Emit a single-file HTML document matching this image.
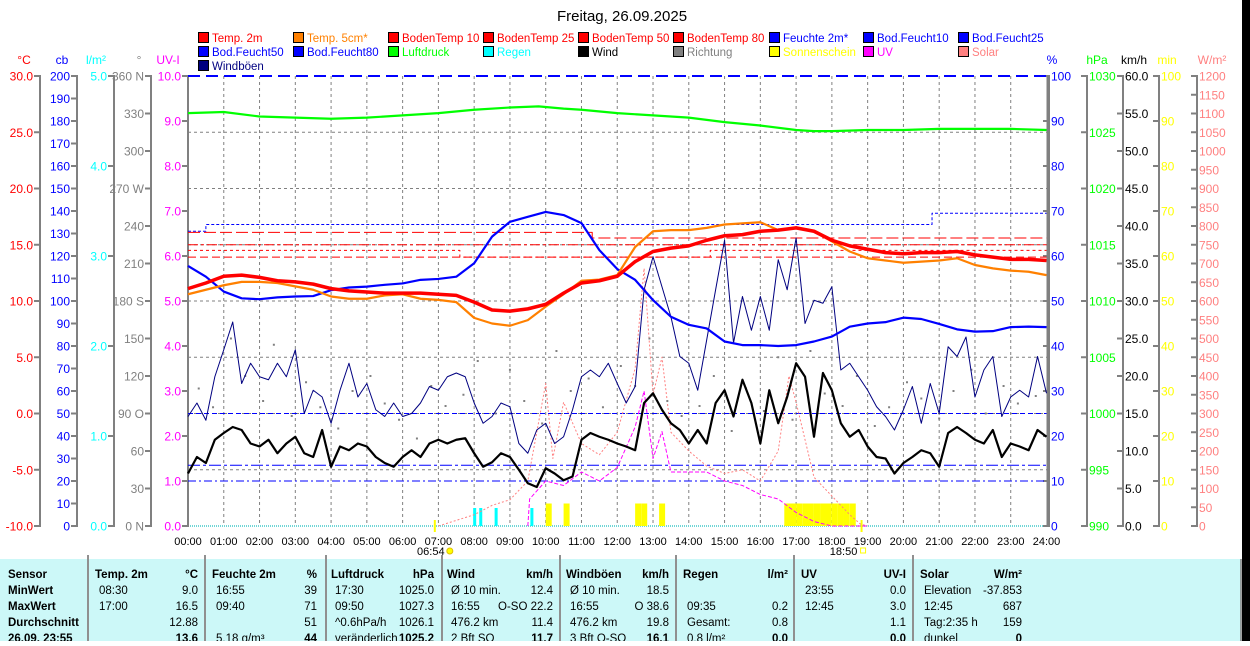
<!DOCTYPE html>
<html><head><meta charset="utf-8"><title>Wetter 26.09.2025</title>
<style>
body{margin:0;width:1250px;height:641px;overflow:hidden;background:#fff;font-family:"Liberation Sans",sans-serif;}
svg text{font-family:"Liberation Sans",sans-serif;}
#tbl text{font-family:"Liberation Sans Narrow","Liberation Sans",sans-serif;font-size:11.5px;}
</style></head>
<body>
<svg id="chart" width="1250" height="641" xmlns="http://www.w3.org/2000/svg">
<rect x="1242" y="0" width="8" height="641" fill="#000"/>
<text x="622" y="21" font-size="15" text-anchor="middle" fill="#000">Freitag, 26.09.2025</text>
<g id="legend"></g>
<g id="grid"></g>
<g id="axes"></g>
<g id="series"></g>
<g id="tbl"></g>
</svg>
<script>
// ---------- DATA ----------
const halfHours = [0,0.5,1,1.5,2,2.5,3,3.5,4,4.5,5,5.5,6,6.5,7,7.5,8,8.5,9,9.5,10,10.5,11,11.5,12,12.5,13,13.5,14,14.5,15,15.5,16,16.5,17,17.5,18,18.5,19,19.5,20,20.5,21,21.5,22,22.5,23,23.5,24];
const temp2m = [11.1,11.6,12.2,12.3,12.1,11.8,11.7,11.5,11.1,10.9,10.8,10.7,10.7,10.7,10.6,10.5,9.9,9.2,9.1,9.3,9.7,10.7,11.6,11.8,12.2,13.5,14.4,14.7,14.9,15.4,15.8,15.9,16.2,16.3,16.5,16.2,15.4,14.9,14.6,14.3,14.2,14.3,14.3,14.4,14.1,13.9,13.7,13.7,13.6];
const temp5cm = [10.6,11.0,11.4,11.7,11.7,11.6,11.3,11.0,10.4,10.2,10.2,10.5,10.6,10.2,10.1,9.9,8.5,8.0,7.8,8.3,9.5,10.6,11.8,11.9,12.3,14.8,16.2,16.3,16.3,16.5,16.8,16.9,17.0,16.3,16.5,16.2,15.3,14.4,13.8,13.6,13.4,13.5,13.6,13.8,13.2,12.9,12.7,12.6,12.3];
const humidity = [57.8,55.4,52.1,50.6,50.4,50.8,51.0,51.1,52.4,53.0,53.2,53.6,53.9,54.7,54.9,55.4,58.4,64.3,67.6,68.7,69.8,69.1,67.3,61.3,57.1,54.7,50.2,46.5,44.7,43.9,41.0,40.2,40.2,40.0,40.2,41.0,42.1,44.3,45.0,45.3,46.3,46.0,44.9,43.7,43.2,43.3,44.2,44.3,44.2];
const hourly = [0,1,2,3,4,5,6,7,8,9,9.8,10.5,11,12,13,14,15,16,17,17.5,18,19,20,21,22,23,24];
const pressure = [1026.7,1026.8,1026.4,1026.3,1026.2,1026.3,1026.5,1026.7,1027.0,1027.2,1027.3,1027.1,1027.0,1026.7,1026.5,1026.3,1025.9,1025.6,1025.2,1025.1,1025.1,1025.2,1025.2,1025.3,1025.3,1025.3,1025.2];
const soilTimes = [0,7.6,11.3,14.6,24];
const soil10 = [16.1,16.1,15.6,15.6,15.6];
const soil25 = [15.0,15.0,15.0,15.0,15.0];
const soil50 = [14.5,13.9,13.9,14.5,14.5];
const soil80 = [13.9,13.9,13.9,13.9,13.9];
const bodTimes = [0,0.5,7.6,20.8,24];
const bodF10 = [131,134,134,139,139];
const bodF25 = [50,50,50,50,50];
const bodF50 = [27,27,27,27,27];
const bodF80 = [20,20,20,20,20];
const bodF100 = [200,200,200,200,200];
const quarters = [];
for (let i=0;i<=96;i++) quarters.push(i/4);
const wind = [7.0,9.2,8.4,11.5,12.4,13.2,12.8,11.0,10.6,11.5,9.7,11.0,11.9,9.7,9.2,12.8,7.9,10.6,10.1,11.0,10.6,9.2,8.4,7.9,9.2,10.1,9.2,11.0,11.5,11.0,11.5,11.7,9.7,7.9,8.5,9.7,9.2,7.5,5.7,5.2,7.7,7.0,6.1,6.6,11.5,12.4,11.9,11.5,11.0,10.6,10.1,16.4,17.7,15.5,13.7,12.8,11.0,12.8,11.0,16.4,18.1,14.6,19.5,16.4,11.0,18.1,13.7,17.2,21.7,19.9,11.9,20.4,18.1,13.7,11.9,12.8,10.6,9.2,9.0,7.0,8.4,9.2,10.1,9.7,7.9,12.4,13.2,12.4,11.5,11.0,12.8,9.2,11.0,10.6,10.1,12.8,11.9];
const gust = [14.6,16.4,14.1,19.9,23.5,27.2,19.0,21.7,19.9,19.5,21.7,19.9,23.5,15.0,18.1,17.2,13.7,18.1,21.7,17.2,19.0,15.5,14.6,16.4,14.6,15.0,16.4,18.6,18.1,19.9,20.4,19.9,16.4,13.7,14.6,16.4,15.9,11.0,9.7,12.8,13.7,11.0,11.9,15.5,19.9,20.8,19.9,21.7,19.0,16.4,18.6,31.5,35.9,31.9,27.9,22.6,21.7,18.1,24.8,31.5,38.1,24.4,30.6,26.1,30.6,26.1,35.5,31.5,38.4,27.0,30.1,29.7,31.9,20.8,21.7,19.9,18.1,15.9,14.6,12.8,15.5,18.6,13.7,19.0,15.0,23.9,22.6,25.2,17.2,20.8,22.6,14.6,17.2,18.1,17.2,22.6,17.7];
const dirTimes = [0.3,0.7,1.2,1.6,2.1,2.4,2.9,3.3,3.7,4.2,4.6,5.1,5.5,5.9,6.4,6.8,7.2,7.7,8.1,8.6,9.0,9.4,9.9,10.3,10.7,11.2,11.6,12.1,12.5,12.9,13.4,13.8,14.3,14.7,15.2,15.6,16.1,16.5,16.9,17.4,17.8,18.3,18.7,19.2,19.6,20.1,20.5,21.0,21.4,21.9,22.3,22.8,23.2,23.7];
const direction = [110,95,150,120,100,145,88,115,95,78,108,120,98,85,70,112,96,105,132,90,125,100,82,140,108,118,95,128,112,150,100,88,96,120,76,110,92,135,85,140,106,96,120,80,95,115,102,86,108,125,90,112,98,104];
const solarTimes = [7,7.5,8,8.5,9,9.5,10,10.2,10.5,11,11.5,12,12.5,12.75,13,13.25,13.5,14,14.5,15,15.5,16,16.5,16.8,17,17.5,18,18.5,18.8,19];
const solar = [0,15,30,55,70,120,380,180,330,220,190,250,420,687,350,450,250,200,160,140,150,120,200,400,330,130,80,30,5,0];
const uvTimes = [9.5,9.55,10,10.5,11,11.5,12,12.5,12.75,13,13.25,13.5,14,14.5,15,15.5,16,16.5,17,17.5,18,19];
const uv = [0,0.6,1.0,0.9,1.2,1.0,1.3,2.2,3.0,1.5,2.1,1.2,1.2,1.2,1.0,0.9,0.7,0.6,0.3,0.1,0,0];
const rainTimes = [8.0,8.17,8.6,9.6];
const rain = [0.2,0.2,0.2,0.2];
const sunTimes = [10.0,10.5,12.5,12.67,13.17,16.67,16.83,17.0,17.17,17.33,17.5,17.67,17.83,18.0,18.17,18.33,18.5];
const sunMin = [5,5,5,5,5,5,5,5,5,5,5,5,5,5,5,5,5];
const hourLabels = ["00:00","01:00","02:00","03:00","04:00","05:00","06:00","07:00","08:00","09:00","10:00","11:00","12:00","13:00","14:00","15:00","16:00","17:00","18:00","19:00","20:00","21:00","22:00","23:00","24:00"];

// ---------- SCALES ----------
const X0=188, X1=1046.5, YT=76, YB=526;
const X = h => X0 + h*(X1-X0)/24;
const lin = (lo,hi) => v => YB - (v-lo)/(hi-lo)*(YB-YT);
const yT = lin(-10,30), yCb = lin(0,200), yRain = lin(0,5), yDir = lin(0,360), yUV = lin(0,10);
const yHum = lin(0,100), yP = lin(990,1030), yW = lin(0,60), ySun = lin(0,100), ySol = lin(0,1200);
const NS="http://www.w3.org/2000/svg";
function mk(tag, attrs, parent){const e=document.createElementNS(NS,tag);for(const k in attrs)e.setAttribute(k,attrs[k]);parent.appendChild(e);return e;}
function txt(s, attrs, parent){const e=mk('text',attrs,parent);e.textContent=s;return e;}
const G=document.getElementById('grid'),A=document.getElementById('axes'),S=document.getElementById('series'),L=document.getElementById('legend'),T=document.getElementById('tbl');

// ---------- LEGEND ----------
const legRows=[
 [["Temp. 2m","#ff0000"],["Temp. 5cm*","#ff8000"],["BodenTemp 10","#ff0000"],["BodenTemp 25","#ff0000"],["BodenTemp 50","#ff0000"],["BodenTemp 80","#ff0000"],["Feuchte 2m*","#0000ff"],["Bod.Feucht10","#0000ff"],["Bod.Feucht25","#0000ff"]],
 [["Bod.Feucht50","#0000ff"],["Bod.Feucht80","#0000ff"],["Luftdruck","#00ff00"],["Regen","#00ffff"],["Wind","#000000"],["Richtung","#808080"],["Sonnenschein","#ffff00"],["UV","#ff00ff"],["Solar","#ff8080"]],
 [["Windböen","#000080"]]];
const legX=[198,293,388,483,578,673,769,863,958];
legRows.forEach((row,r)=>row.forEach((it,c)=>{
  const g=mk('g',{},L);
  
  
  mk('rect',{x:legX[c]+0.5,y:32+r*14+0.5,width:10,height:10,fill:it[1],stroke:'#000'},g);
  txt(it[0],{x:legX[c]+14,y:42+r*14,'font-size':11.5,fill:it[1]==='#000000'?'#000':it[1]},g);
}));

// ---------- GRID ----------
for(let h=1;h<24;h++){const l=mk('line',{x1:X(h),x2:X(h),y1:YT,y2:YB,stroke:'#808080','stroke-dasharray':'3,3'},G);}
for(let i=1;i<8;i++){const y=YT+i*(YB-YT)/8;const l=mk('line',{x1:X0,x2:X1,y1:y,y2:y,stroke:'#808080','stroke-dasharray':'3,3'},G);}
mk('line',{x1:X0,x2:X1,y1:YB,y2:YB,stroke:'#40c8c8','stroke-width':1.5,'stroke-dasharray':'1,1'},G);
mk('line',{x1:X0,x2:X0,y1:YT,y2:YB+1,stroke:'#808080','stroke-width':2},G);
mk('line',{x1:X1+1,x2:X1+1,y1:YT,y2:YB+1,stroke:'#808080','stroke-width':2},G);

// ---------- AXES ----------
function axis(name,x,side,lo,hi,step,scale,color,fmt,unit,ux){
  const g=mk('g',{},A);
  
  
  mk('line',{x1:x,x2:x,y1:YT,y2:YB,stroke:'#808080','stroke-width':2},g);
  for(let v=lo;v<=hi+1e-9;v+=step){
    const y=scale(v);
    if(side==='L'){mk('line',{x1:x-6,x2:x+1,y1:y,y2:y,stroke:'#808080','stroke-width':2},g);txt(fmt(v),{x:x-7,y:y+4.5,'font-size':12,'text-anchor':'end',fill:color},g);}
    else{mk('line',{x1:x-6,x2:x+1,y1:y,y2:y,stroke:'#808080','stroke-width':2},g);txt(fmt(v),{x:x+2,y:y+4.5,'font-size':12,fill:color},g);}
  }
  txt(unit,{x:ux,y:64,'font-size':12,'text-anchor':'middle',fill:color},g);
}
axis('celsius-axis',40,'L',-10,30,5,yT,'#ff0000',v=>v.toFixed(1),'°C',24);
axis('cb-axis',77,'L',0,200,10,yCb,'#0000ff',v=>String(v),'cb',62);
axis('rain-axis',114,'L',0,5,1,yRain,'#00ffff',v=>v.toFixed(1),'l/m²',96);
const dirNames={0:' N',90:' O',180:' S',270:' W',360:' N'};
axis('direction-axis',151,'L',0,360,30,yDir,'#808080',v=>v+(dirNames[v]||''),'°',139);
axis('uv-axis',188,'L',0,10,1,yUV,'#ff00ff',v=>v.toFixed(1),'UV-I',168);
axis('humidity-axis',1049,'R',0,100,10,yHum,'#0000ff',v=>String(v),'%',1052);
axis('pressure-axis',1087,'R',990,1030,5,yP,'#00ff00',v=>String(v),'hPa',1097);
axis('wind-axis',1123,'R',0,60,5,yW,'#000000',v=>v.toFixed(1),'km/h',1134);
axis('sun-axis',1159,'R',0,100,10,ySun,'#ffff00',v=>String(v),'min',1167);
axis('solar-axis',1197,'R',0,1200,50,ySol,'#ff8080',v=>String(v),'W/m²',1212);

hourLabels.forEach((s,i)=>{const t=txt(s,{x:X(i),y:545,'font-size':11,'text-anchor':'middle',fill:'#000'},A);});
txt('06:54',{x:X(6.9)-4,y:555,'font-size':11,'text-anchor':'middle',fill:'#000'},A);
mk('circle',{cx:X(6.9)+15,cy:551,r:3,fill:'#ffff00',stroke:'#e0c000'},A);
txt('18:50',{x:X(18.83)-18,y:555,'font-size':11,'text-anchor':'middle',fill:'#000'},A);
mk('rect',{x:X(18.83)+-1,y:548,width:5,height:5,fill:'none',stroke:'#ffff00'},A);
mk('line',{x1:X(6.9),x2:X(6.9),y1:520,y2:532,stroke:'#ffff00','stroke-width':2},A);
mk('line',{x1:X(18.83),x2:X(18.83),y1:520,y2:532,stroke:'#ffff00','stroke-width':2},A);

// ---------- SERIES ----------
function line(name,xs,vs,scale,color,w,dash,step){
  let d='';
  xs.forEach((h,i)=>{
    const x=X(h),y=scale(vs[i]);
    if(i===0)d+='M'+x+','+y;
    else if(step)d+='H'+x+'V'+y;
    else d+='L'+x+','+y;
  });
  const p=mk('path',{d:d,fill:'none',stroke:color,'stroke-width':w,'stroke-linejoin':'round'},S);
  if(dash)p.setAttribute('stroke-dasharray',dash);
  
  
}
sunTimes.forEach((h,i)=>{const r=mk('rect',{x:X(h),y:ySun(sunMin[i]),width:6,height:YB-ySun(sunMin[i]),fill:'#ffff00'},S);});
rainTimes.forEach((h,i)=>{const r=mk('rect',{x:X(h)-1,y:yRain(rain[i]),width:3,height:YB-yRain(rain[i]),fill:'#00ffff'},S);});
line('bod-feucht80-line',bodTimes,bodF100,yCb,'#0000ff',2,'12,6',true);
line('bod-feucht10-line',bodTimes,bodF10,yCb,'#0000ff',1,'3,2',true);
line('bod-feucht25-line',bodTimes,bodF25,yCb,'#0000ff',1,'5,3',true);
line('bod-feucht50-line',bodTimes,bodF50,yCb,'#0000ff',1,'12,3,3,3',true);
line('bod-feucht-extra-line',bodTimes,bodF80,yCb,'#0000ff',1,'8,3,2,3',true);
line('boden-temp10-line',soilTimes,soil10,yT,'#ff0000',1,'12,4',true);
line('boden-temp25-line',soilTimes,soil25,yT,'#ff0000',1,'10,3,3,3',true);
line('boden-temp50-line',soilTimes,soil50,yT,'#ff0000',1,'3,3',true);
line('boden-temp80-line',soilTimes,soil80,yT,'#ff0000',1,'8,4',true);
line('solar-line',solarTimes,solar,ySol,'#ff8080',1,'2,2');
line('uv-line',uvTimes,uv,yUV,'#ff00ff',1,'4,2');
dirTimes.forEach((h,i)=>{const c=mk('rect',{x:X(h)-1,y:yDir(direction[i])-1,width:2,height:2,fill:'#808080'},S);});
line('gust-line',quarters,gust,yW,'#000080',1);
line('wind-line',quarters,wind,yW,'#000000',2.2);
line('pressure-line',hourly,pressure,yP,'#00ff00',2.2);
line('humidity-line',halfHours,humidity,yHum,'#0000ff',2.2);
line('temp5cm-line',halfHours,temp5cm,yT,'#ff8000',2.2);
line('temp2m-line',halfHours,temp2m,yT,'#ff0000',3.5);

// ---------- TABLE ----------
mk('rect',{x:0,y:559,width:1241,height:82,fill:'#ccf8f8'},T);
mk('line',{x1:1241,x2:1241,y1:559,y2:641,stroke:'#808080','stroke-width':1.5},T);
[88,205,326,442,560,676,794,913].forEach(x=>{const l=mk('line',{x1:x,x2:x,y1:555,y2:641,stroke:'#909090','stroke-width':2},T);});
const rY=[578,594,610,626,642];
const col0=["Sensor","MinWert","MaxWert","Durchschnitt","26.09. 23:55"];
col0.forEach((s,i)=>txt(s,{x:8,y:rY[i],'font-weight':'bold',fill:'#000'},T));
const cols=[
 [95,198,["Temp. 2m","°C"],[["08:30","9.0"],["17:00","16.5"],["","12.88"],["","13.6"]]],
 [212,317,["Feuchte 2m","%"],[["16:55","39"],["09:40","71"],["","51"],["5.18 g/m³","44"]]],
 [331,434,["Luftdruck","hPa"],[["17:30","1025.0"],["09:50","1027.3"],["^0.6hPa/h","1026.1"],["veränderlich","1025.2"]]],
 [447,553,["Wind","km/h"],[["Ø 10 min.","12.4"],["16:55","O-SO 22.2"],["476.2 km","11.4"],["2 Bft SO","11.7"]]],
 [566,669,["Windböen","km/h"],[["Ø 10 min.","18.5"],["16:55","O 38.6"],["476.2 km","19.8"],["3 Bft O-SO","16.1"]]],
 [683,788,["Regen","l/m²"],[["",""],["09:35","0.2"],["Gesamt:","0.8"],["0.8 l/m²","0.0"]]],
 [801,906,["UV","UV-I"],[["23:55","0.0"],["12:45","3.0"],["","1.1"],["","0.0"]]],
 [920,1022,["Solar","W/m²"],[["Elevation","-37.853"],["12:45","687"],["Tag:2:35 h","159"],["dunkel","0"]]]];
cols.forEach(c=>{
  txt(c[2][0],{x:c[0],y:rY[0],'font-weight':'bold',fill:'#000'},T);
  txt(c[2][1],{x:c[1],y:rY[0],'font-weight':'bold','text-anchor':'end',fill:'#000'},T);
  c[3].forEach((r,i)=>{
    txt(r[0],{x:c[0]+4,y:rY[i+1],fill:'#000'},T);
    const t=txt(r[1],{x:c[1],y:rY[i+1],'text-anchor':'end',fill:'#000'},T);
    if(i===3)t.setAttribute('font-weight','bold');
  });
});
</script>
</body></html>
